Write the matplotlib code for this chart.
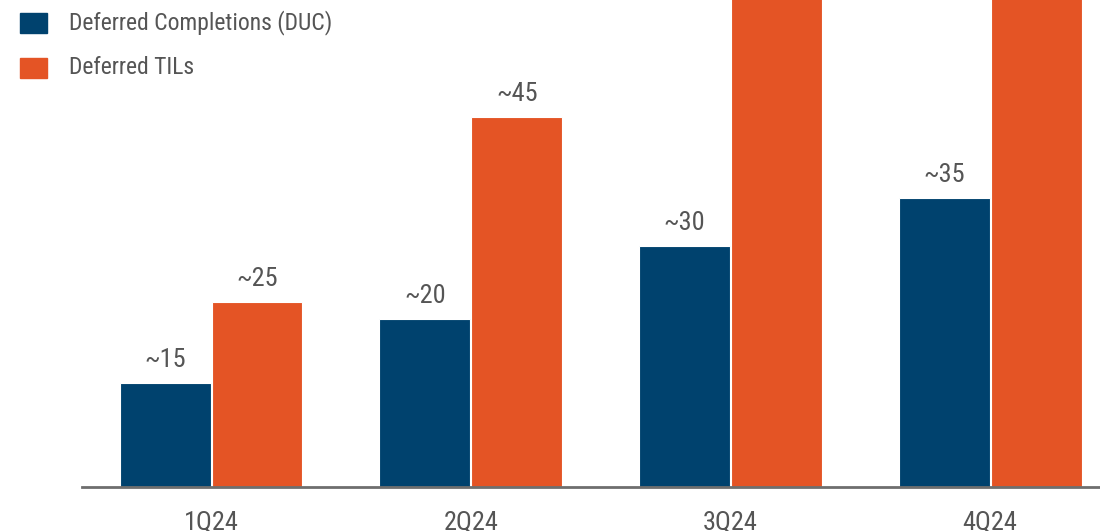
import matplotlib
matplotlib.use("Agg")
import matplotlib.pyplot as plt
from matplotlib import font_manager
from matplotlib.patches import Rectangle
import numpy as np

available = {f.name for f in font_manager.fontManager.ttflist}
fam = "DejaVu Sans"
for cand in ["Roboto Condensed", "Archivo Narrow", "PT Sans Narrow",
             "Barlow Semi Condensed", "Asap Condensed", "Liberation Sans Narrow"]:
    if cand in available:
        fam = cand
        break
plt.rcParams['font.family'] = [fam, 'DejaVu Sans']

categories = ["1Q24", "2Q24", "3Q24", "4Q24"]
duc_values = [12.7, 20.5, 29.4, 35.2]
til_values = [22.6, 45.1, 65.0, 70.0]
duc_labels = ["~15", "~20", "~30", "~35"]
til_labels = ["~25", "~45", None, None]
series_names = ["Deferred Completions (DUC)", "Deferred TILs"]

navy = "#00426E"
orange = "#E45425"
grey = "#555555"

fig = plt.figure(figsize=(11, 5.31), dpi=100)
ax = fig.add_axes([82/1100, 1 - 487/531, 1 - 82/1100, 487/531])
x = np.arange(len(categories))
w = 0.35
off = 0.177
b1 = ax.bar(x - off, duc_values, w, color=navy, edgecolor="white", linewidth=0.8)
b2 = ax.bar(x + off, til_values, w, color=orange, edgecolor="white", linewidth=0.8)
ax.set_ylim(0, 59.4)
ax.set_xlim(-0.497, 3.423)
for s in ["top", "right", "left"]:
    ax.spines[s].set_visible(False)
ax.spines["bottom"].set_color("#6e6e6e")
ax.spines["bottom"].set_linewidth(2)
ax.set_yticks([])
ax.set_xticks(x)
ax.set_xticklabels(categories, fontsize=19, color=grey)
ax.tick_params(axis="x", length=0, pad=17)

for bars, labels in [(b1, duc_labels), (b2, til_labels)]:
    for bar, lab in zip(bars, labels):
        if lab is None:
            continue
        ax.annotate(lab, (bar.get_x() + bar.get_width()/2, bar.get_height()),
                    xytext=(0, 8), textcoords="offset points",
                    ha="center", va="bottom", fontsize=19, color=grey)

for i, (name, col) in enumerate(zip(series_names, [navy, orange])):
    yc = 23 + 45*i
    fig.add_artist(Rectangle((20/1100, 1 - (yc+10)/531), 27/1100, 20/531,
                             transform=fig.transFigure, color=col))
    fig.text(69/1100, 1 - yc/531, name, fontsize=17, color=grey, va="center", ha="left")

fig.savefig("out.png", dpi=100)
